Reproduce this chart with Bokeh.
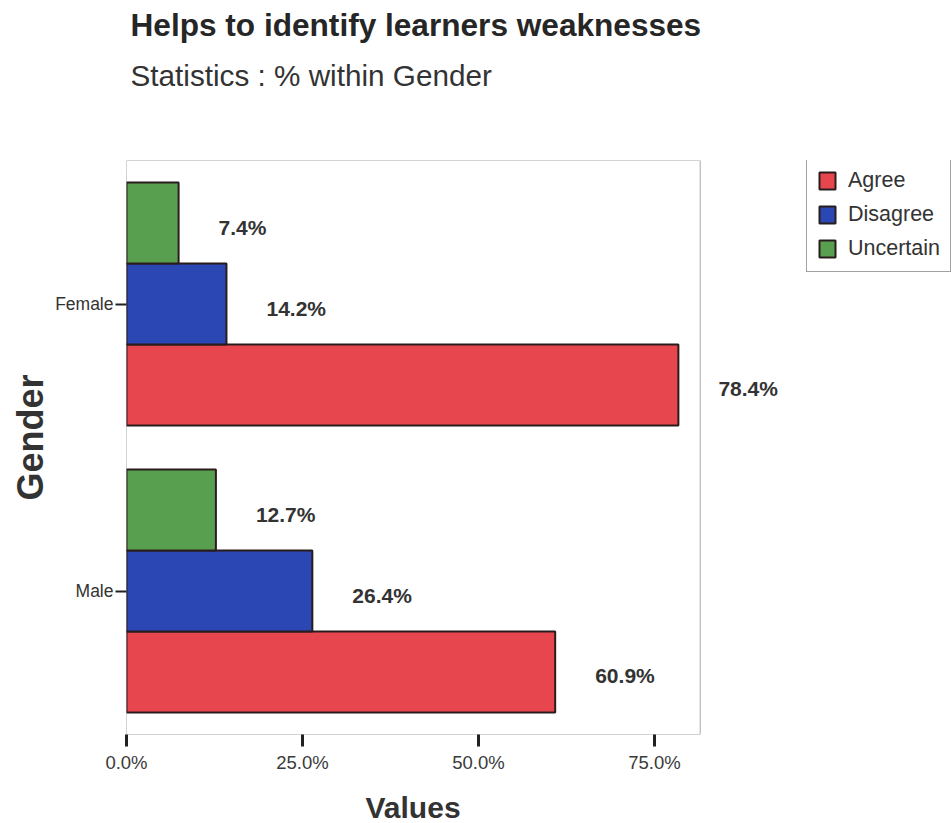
from bokeh.plotting import figure
from bokeh.models import (ColumnDataSource, FactorRange, LabelSet, Legend,
                          LegendItem, FixedTicker, Title)
from bokeh.transform import dodge
from bokeh.core.properties import value
from bokeh.embed import file_html
from bokeh.resources import INLINE

# Survey responses, % within gender
genders = ["Male", "Female"]          # bottom to top
statuses = ["Agree", "Disagree", "Uncertain"]
agree = [60.9, 78.4]
disagree = [26.4, 14.2]
uncertain = [12.7, 7.4]
x_ticks = [0, 25, 50, 75]

series = {"Agree": agree, "Disagree": disagree, "Uncertain": uncertain}
colors = {"Agree": "#e8464f", "Disagree": "#2b47b3", "Uncertain": "#58a04f"}
offsets = {"Agree": -0.282, "Disagree": 0.0, "Uncertain": 0.282}
bar_h = 0.282

AREA_END = 81.5      # right edge of the boxed plotting area (percent)
VIEW_END = 117.2     # visible x extent, leaves room for labels and the key

FONT = "Liberation Sans"

p = figure(width=951, height=823, output_backend="svg", toolbar_location=None,
           y_range=FactorRange(*genders, range_padding=0, factor_padding=0),
           x_range=(0, VIEW_END),
           min_border_left=126, min_border_right=0,
           min_border_top=0, min_border_bottom=0)
p.background_fill_color = "white"
p.border_fill_color = "white"
p.outline_line_color = None
p.grid.visible = False

# thin box around the plotting area
p.quad(left=[0], right=[AREA_END], bottom=[0], top=[2],
       fill_color=None, line_color="#a8a8a8", line_width=1)

renderers = {}
for s in statuses:
    src = ColumnDataSource(dict(gender=genders, value=series[s],
                                label=[f"{v:.1f}%" for v in series[s]]))
    r = p.hbar(y=dodge("gender", offsets[s], range=p.y_range), right="value", left=0,
               height=bar_h, source=src, fill_color=colors[s],
               line_color="#2a1c1c", line_width=2)
    renderers[s] = r
    labels = LabelSet(x="value", y=dodge("gender", offsets[s], range=p.y_range),
                      text="label", source=src, x_offset=40, y_offset=-4,
                      text_font=value(FONT), text_font_style="bold",
                      text_font_size="21px", text_color="#333333",
                      text_baseline="middle", text_align="left")
    p.add_layout(labels)

# x axis
xa = p.xaxis[0]
xa.ticker = FixedTicker(ticks=x_ticks)
xa.major_label_overrides = {t: f"{t:.1f}%" for t in x_ticks}
xa.axis_line_color = None
xa.major_tick_in = 0
xa.major_tick_out = 12
xa.major_tick_line_width = 3
xa.major_tick_line_color = "#222222"
xa.minor_tick_line_color = None
xa.major_label_text_font = FONT
xa.major_label_text_font_size = "18.5px"
xa.major_label_text_color = "#3a3a3a"
xa.major_label_standoff = 5

# x axis title, centred under the boxed area
p.add_layout(Title(text=" ", text_font=FONT, text_font_size="8px", standoff=2), "below")
p.add_layout(Title(text="Values", text_font=FONT, text_font_size="30px",
                   text_font_style="bold", text_color="#333333",
                   align="left", offset=239, standoff=0), "below")

# y axis
ya = p.yaxis[0]
ya.axis_line_color = None
ya.major_tick_in = 0
ya.major_tick_out = 11
ya.major_tick_line_width = 2
ya.major_tick_line_color = "#222222"
ya.major_label_text_font = FONT
ya.major_label_text_font_size = "17.5px"
ya.major_label_text_color = "#333333"
ya.major_label_standoff = 2

# y axis title
p.add_layout(Title(text="Gender", text_font=FONT, text_font_size="36px",
                   text_font_style="bold", text_color="#333333",
                   align="left", offset=234, standoff=4), "left")

# titles above the plotting area (first added sits closest to it)
p.add_layout(Title(text=" ", text_font=FONT, text_font_size="10px", standoff=46), "above")
p.add_layout(Title(text="Statistics : % within Gender", text_font=FONT,
                   text_font_size="29.7px", text_font_style="normal",
                   text_color="#333333", align="left", offset=4, standoff=19), "above")
p.add_layout(Title(text="Helps to identify learners weaknesses", text_font=FONT,
                   text_font_size="31.6px", text_font_style="bold",
                   text_color="#262626", align="left", offset=4, standoff=9), "above")

legend = Legend(items=[LegendItem(label=s, renderers=[renderers[s]]) for s in statuses],
                location=(680, 462), orientation="vertical",
                glyph_width=20, glyph_height=21, spacing=9,
                padding=10, margin=0, label_standoff=11,
                label_text_font=FONT, label_text_font_size="21.5px",
                label_text_color="#333333",
                border_line_color="#444444", border_line_width=1.5,
                background_fill_color="white", background_fill_alpha=1)
p.add_layout(legend, "center")

open("out.html", "w").write(file_html(p, INLINE))
